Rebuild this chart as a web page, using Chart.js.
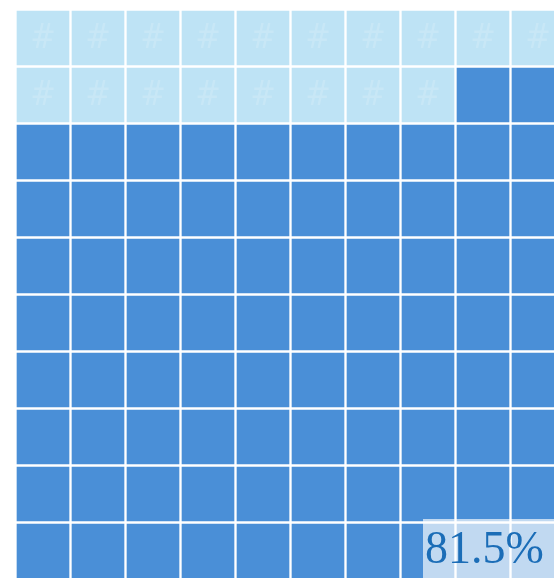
<!DOCTYPE html>
<html>
<head>
<meta charset="utf-8">
<script src="https://cdn.jsdelivr.net/npm/chart.js@4/dist/chart.umd.min.js"></script>
<style>
	html, body { margin: 0; padding: 0; background: #fff; overflow: hidden; }
	#wrap { position: absolute; left: 0; top: 0; width: 580px; height: 600px; }
</style>
</head>
<body>
<div id="wrap"><canvas id="waffle"></canvas></div>
<script>
const columns = ["1", "2", "3", "4", "5", "6", "7", "8", "9", "10"];
// 1 = filled cell, 0 = remaining cell (row by row, top to bottom)
const cellRows = [
	[0, 0, 0, 0, 0, 0, 0, 0, 0, 0],
	[0, 0, 0, 0, 0, 0, 0, 0, 1, 1],
	[1, 1, 1, 1, 1, 1, 1, 1, 1, 1],
	[1, 1, 1, 1, 1, 1, 1, 1, 1, 1],
	[1, 1, 1, 1, 1, 1, 1, 1, 1, 1],
	[1, 1, 1, 1, 1, 1, 1, 1, 1, 1],
	[1, 1, 1, 1, 1, 1, 1, 1, 1, 1],
	[1, 1, 1, 1, 1, 1, 1, 1, 1, 1],
	[1, 1, 1, 1, 1, 1, 1, 1, 1, 1],
	[1, 1, 1, 1, 1, 1, 1, 1, 1, 1],
];
const percentLabel = "81.5%";

const filledColor = "#4a8fd7";
const emptyColor = "#bee3f5";

const datasets = cellRows.map((row, r) => ({
	label: "row " + (r + 1),
	data: row.map(() => [r, r + 1]),
	backgroundColor: row.map((v) => (v ? filledColor : emptyColor)),
	borderColor: "rgba(255,255,255,0.8)",
	borderWidth: 1.5,
	borderSkipped: false,
	barPercentage: 1,
	categoryPercentage: 1,
	grouped: false,
}));

const hashPlugin = {
	id: "hashMarks",
	afterDatasetsDraw(chart) {
		const ctx = chart.ctx;
		ctx.save();
		ctx.font = "34px 'DejaVu Sans Condensed'";
		ctx.fillStyle = "rgba(255,255,255,0.16)";
		ctx.textAlign = "center";
		ctx.textBaseline = "middle";
		chart.data.datasets.forEach((ds, r) => {
			chart.getDatasetMeta(r).data.forEach((bar, i) => {
				if (cellRows[r][i]) return;
				ctx.fillText("#", bar.x, (bar.y + bar.base) / 2 + 1);
			});
		});
		ctx.restore();
	},
};

const labelPlugin = {
	id: "percentLabel",
	afterDraw(chart) {
		const ctx = chart.ctx;
		const area = chart.chartArea;
		const left = area.right - 142.5;
		const top = area.bottom - 60.5;
		ctx.save();
		ctx.fillStyle = "rgba(255,255,255,0.66)";
		ctx.fillRect(left, top, area.right - left, area.bottom - top);
		ctx.font = "46px 'Liberation Serif'";
		ctx.fillStyle = "#1b6db7";
		ctx.textAlign = "left";
		ctx.textBaseline = "alphabetic";
		ctx.fillText(percentLabel, left + 2, top + 44);
		ctx.restore();
	},
};

new Chart(document.getElementById("waffle"), {
	type: "bar",
	data: {
		labels: columns,
		datasets: datasets,
	},
	options: {
		responsive: true,
		maintainAspectRatio: false,
		animation: false,
		layout: {
			padding: { left: 15.5, top: 9.5, right: 14.5, bottom: 20.5 },
		},
		plugins: {
			legend: { display: false },
			tooltip: { enabled: false },
		},
		scales: {
			x: {
				display: false,
			},
			y: {
				display: false,
				min: 0,
				max: 10,
				reverse: true,
			},
		},
	},
	plugins: [hashPlugin, labelPlugin],
});
</script>
</body>
</html>
